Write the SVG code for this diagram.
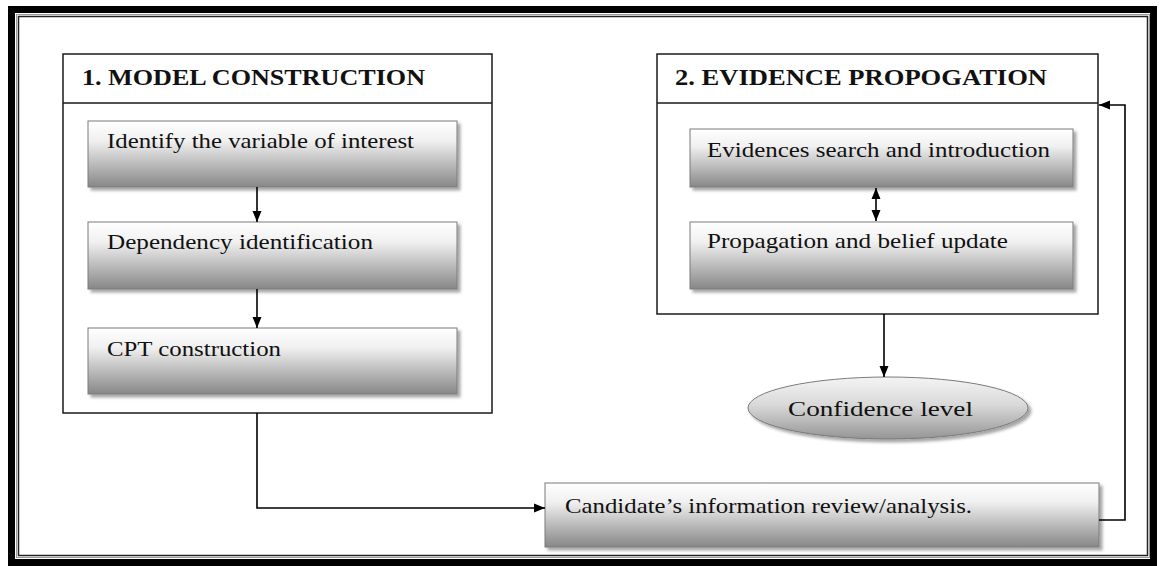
<svg xmlns="http://www.w3.org/2000/svg" width="1162" height="566" viewBox="0 0 1162 566">
  <defs>
    <linearGradient id="boxFill" x1="0" y1="0" x2="0" y2="1">
      <stop offset="0" stop-color="#ffffff"/>
      <stop offset="0.3" stop-color="#f0f0f0"/>
      <stop offset="1" stop-color="#878787"/>
    </linearGradient>
    <linearGradient id="ovalFill" x1="0" y1="0" x2="0" y2="1">
      <stop offset="0" stop-color="#f4f4f4"/>
      <stop offset="0.45" stop-color="#d9d9d9"/>
      <stop offset="1" stop-color="#959595"/>
    </linearGradient>
    <filter id="shadow" x="-5%" y="-10%" width="115%" height="130%">
      <feDropShadow dx="3" dy="3" stdDeviation="1.5" flood-color="#000" flood-opacity="0.35"/>
    </filter>
    <marker id="arrowEnd" markerUnits="userSpaceOnUse" markerWidth="11" markerHeight="11" viewBox="0 0 11 11" refX="11" refY="5.5" orient="auto">
      <path d="M0,1 L11,5.5 L0,10 Z" fill="#000"/>
    </marker>
    <marker id="arrowStart" markerUnits="userSpaceOnUse" markerWidth="11" markerHeight="11" viewBox="0 0 11 11" refX="0" refY="5.5" orient="auto">
      <path d="M11,1 L0,5.5 L11,10 Z" fill="#000"/>
    </marker>
  </defs>
  <style>
    .frame-outer { fill: none; stroke: #000; stroke-width: 7; }
    .frame-mid { fill: none; stroke: #9a9a9a; stroke-width: 1; }
    .frame-inner { fill: none; stroke: #222; stroke-width: 1.5; }
    .panel { fill: #fff; stroke: #1a1a1a; stroke-width: 1.5; }
    .divider { stroke: #1a1a1a; stroke-width: 1.5; }
    .step { fill: url(#boxFill); stroke: #7a7a7a; stroke-width: 1; filter: url(#shadow); }
    .oval { fill: url(#ovalFill); stroke: #7a7a7a; stroke-width: 1; filter: url(#shadow); }
    .title { font-family: "Liberation Serif", "DejaVu Serif", serif; font-weight: bold; font-size: 24px; fill: #111; }
    .label { font-family: "Liberation Serif", "DejaVu Serif", serif; font-size: 21px; fill: #111; }
    .link { fill: none; stroke: #000; stroke-width: 1.6; }
  </style>

  <rect width="1162" height="566" fill="#fff"/>

  <!-- page border: thick outer rule with a thin double rule inside -->
  <g id="page-border">
    <rect class="frame-outer" x="11.5" y="9.5" width="1142" height="553"/>
    <rect class="frame-mid" x="16.5" y="14.5" width="1133" height="543"/>
    <rect class="frame-inner" x="18.5" y="16.5" width="1129" height="539"/>
  </g>

  <!-- stage 1 -->
  <g id="model-construction">
    <rect class="panel" x="63" y="54" width="429" height="359"/>
    <line class="divider" x1="63" y1="103" x2="492" y2="103"/>
    <text class="title" x="82" y="85" textLength="343" lengthAdjust="spacingAndGlyphs">1. MODEL  CONSTRUCTION</text>
  </g>
  <g id="identify-variable">
    <rect class="step" x="88" y="121" width="369" height="66"/>
    <text class="label" x="107" y="148" textLength="307" lengthAdjust="spacingAndGlyphs">Identify the variable of interest</text>
  </g>
  <g id="dependency-identification">
    <rect class="step" x="88" y="222" width="369" height="67"/>
    <text class="label" x="107" y="249" textLength="266" lengthAdjust="spacingAndGlyphs">Dependency identification</text>
  </g>
  <g id="cpt-construction">
    <rect class="step" x="88" y="328" width="369" height="66"/>
    <text class="label" x="107" y="356" textLength="174" lengthAdjust="spacingAndGlyphs">CPT construction</text>
  </g>

  <!-- stage 2 -->
  <g id="evidence-propagation">
    <rect class="panel" x="657" y="54" width="441" height="260"/>
    <line class="divider" x1="657" y1="103" x2="1098" y2="103"/>
    <text class="title" x="675" y="85" textLength="372" lengthAdjust="spacingAndGlyphs">2. EVIDENCE  PROPOGATION</text>
  </g>
  <g id="evidence-search">
    <rect class="step" x="690" y="129" width="383" height="58"/>
    <text class="label" x="707" y="157" textLength="343" lengthAdjust="spacingAndGlyphs">Evidences search and introduction</text>
  </g>
  <g id="belief-update">
    <rect class="step" x="690" y="222" width="383" height="67"/>
    <text class="label" x="707" y="248" textLength="301" lengthAdjust="spacingAndGlyphs">Propagation and belief update</text>
  </g>

  <g id="confidence-level">
    <ellipse class="oval" cx="888" cy="408" rx="140" ry="31"/>
    <text class="label" x="788" y="416" textLength="185" lengthAdjust="spacingAndGlyphs">Confidence level</text>
  </g>

  <g id="candidate-review">
    <rect class="step" x="545" y="483" width="554" height="64"/>
    <text class="label" x="565" y="513" textLength="407" lengthAdjust="spacingAndGlyphs">Candidate’s information review/analysis.</text>
  </g>

  <!-- connectors -->
  <g id="connectors">
    <line class="link" x1="257" y1="187" x2="257" y2="222" marker-end="url(#arrowEnd)"/>
    <line class="link" x1="257" y1="289" x2="257" y2="328" marker-end="url(#arrowEnd)"/>
    <line class="link" x1="876" y1="188" x2="876" y2="221" marker-start="url(#arrowStart)" marker-end="url(#arrowEnd)"/>
    <line class="link" x1="884" y1="314" x2="884" y2="377" marker-end="url(#arrowEnd)"/>
    <polyline class="link" points="257,413 257,508 545,508" marker-end="url(#arrowEnd)"/>
    <polyline class="link" points="1099,520 1125,520 1125,105 1099,105" marker-end="url(#arrowEnd)"/>
  </g>
</svg>
